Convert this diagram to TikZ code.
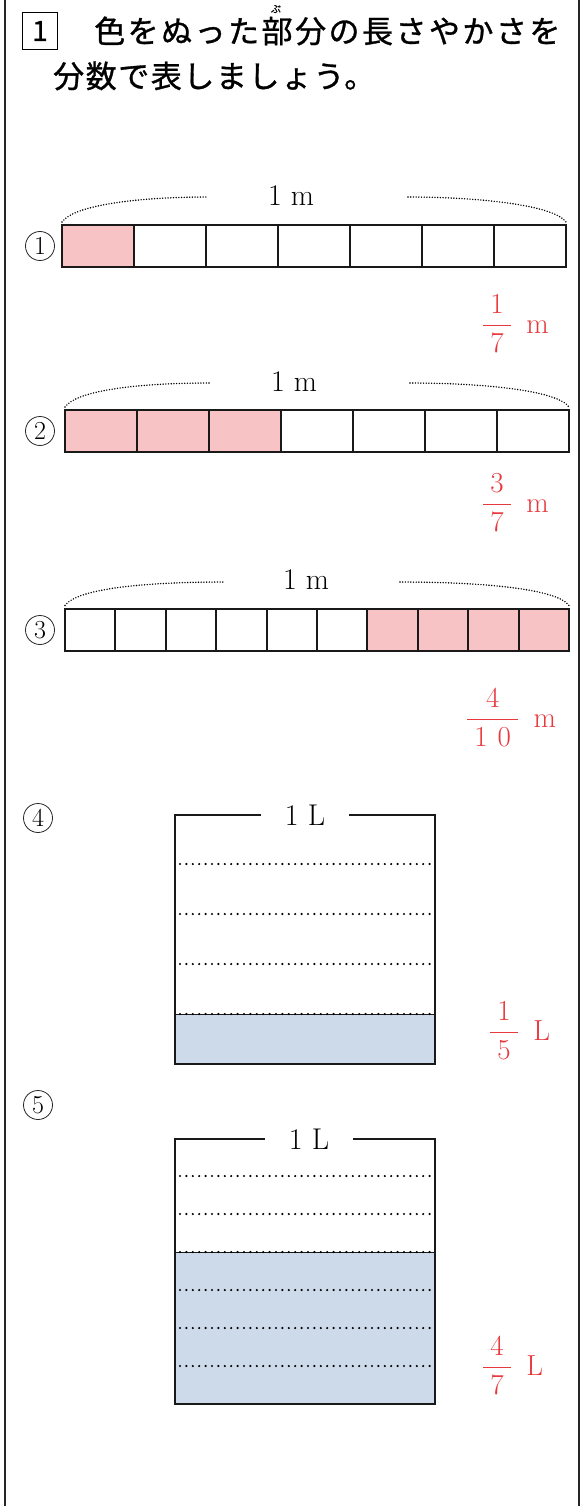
\RequirePackage{fix-cm}
\documentclass[tikz,border=0pt]{standalone}
\usepackage{amsmath}
\usepackage{xcolor}
\usepackage{fontspec}
\newfontfamily\jpfont[FakeBold=1]{Noto Sans CJK JP}
\usepackage{tikz}
\usetikzlibrary{calc,positioning}
\definecolor{pinkfill}{HTML}{F8C3C4}
\definecolor{ansred}{HTML}{E8383D}
\definecolor{waterblue}{HTML}{CDDAE9}
\newcommand{\ansfrac}[2]{$\genfrac{}{}{1.4pt}{0}{\hspace{7pt}#1\hspace{7pt}}{\hspace{7pt}#2\hspace{7pt}}$}

\begin{document}
\begin{tikzpicture}[x=1pt,y=-1pt,
  frame/.style={line width=2pt,black!85},
  cell/.style={draw=black!90,line width=2pt,inner sep=0pt,outer sep=0pt,minimum height=42pt},
  arcline/.style={line width=1.6pt,dash pattern=on 0pt off 2.7pt,line cap=round},
  gauge/.style={line width=2.4pt,dash pattern=on 0pt off 6.4pt,line cap=round},
  tank/.style={draw=black!90,line width=2pt},
  lab/.style={font=\fontsize{30}{32}\selectfont,inner sep=0pt},
  ans/.style={font=\fontsize{29}{31}\selectfont,text=ansred,inner sep=0pt,anchor=base west},
  num/.style={circle,draw=black!85,line width=0.8pt,minimum size=29pt,inner sep=0pt,font=\fontsize{26}{26}\selectfont},
  ttl/.style={font=\jpfont\fontsize{31}{31}\selectfont,inner sep=0pt,anchor=west}]
\useasboundingbox (0,0) rectangle (582,1506);
\draw[frame] (4.5,0) -- (4.5,1506);
\draw[frame] (579,0) -- (579,1506);
% title
\node[draw,line width=1.8pt,minimum width=35pt,minimum height=37pt,inner sep=0pt,
  font=\jpfont\fontsize{28}{28}\selectfont] (q1) at (40,31) {1};
\node[ttl] (t1) at (94,31) {\addfontfeature{LetterSpace=8}色をぬった部分の長さやかさを};
\node[font=\jpfont\fontsize{10}{10}\selectfont,inner sep=0pt] (rb) at (276,9) {ぶ};
\node[ttl] (t2) at (53,76) {\addfontfeature{LetterSpace=5}分数で表しましょう。};
% bar 1
\node[num] (n1) at (40,246) {1};
\foreach \i in {0} \node[cell,minimum width=72pt,fill=pinkfill] (a\i) at (98+72*\i,246) {};
\foreach \i in {1,...,6} \node[cell,minimum width=72pt] (a\i) at (98+72*\i,246) {};
\node[lab] (m1) at (291,196) {1 m};
\coordinate (l1) at (208,197);
\coordinate (r1) at (408,197);
\draw[arcline] (a0.north west) ++(0,-3) .. controls +(12,-17) and +(-70,0) .. (l1);
\draw[arcline] (r1) .. controls +(70,0) and +(-12,-17) .. ($(a6.north east)+(0,-3)$);
\node[ans] (f1) at (482,333) {\ansfrac{1}{7}\enspace m};
% bar 2
\node[num] (n2) at (40,431) {2};
\foreach \i in {0,1,2} \node[cell,minimum width=72pt,fill=pinkfill] (b\i) at (101+72*\i,431) {};
\foreach \i in {3,...,6} \node[cell,minimum width=72pt] (b\i) at (101+72*\i,431) {};
\node[lab] (m2) at (294,382) {1 m};
\coordinate (l2) at (210,383);
\coordinate (r2) at (410,383);
\draw[arcline] (b0.north west) ++(0,-3) .. controls +(12,-17) and +(-70,0) .. (l2);
\draw[arcline] (r2) .. controls +(70,0) and +(-12,-17) .. ($(b6.north east)+(0,-3)$);
\node[ans] (f2) at (482,512) {\ansfrac{3}{7}\enspace m};
% bar 3
\node[num] (n3) at (40,630) {3};
\foreach \i in {0,...,5} \node[cell,minimum width=50.4pt] (c\i) at (90.2+50.4*\i,629.5) {};
\foreach \i in {6,...,9} \node[cell,minimum width=50.4pt,fill=pinkfill] (c\i) at (90.2+50.4*\i,629.5) {};
\node[lab] (m3) at (306,580) {1 m};
\coordinate (l3) at (225,582);
\coordinate (r3) at (400,582);
\draw[arcline] (c0.north west) ++(0,-3) .. controls +(12,-17) and +(-80,0) .. (l3);
\draw[arcline] (r3) .. controls +(80,0) and +(-12,-17) .. ($(c9.north east)+(0,-3)$);
\node[ans] (f3) at (466,727) {$\genfrac{}{}{1.4pt}{0}{4}{\hspace{7pt}1\hspace{10pt}0\hspace{7pt}}$\enspace m};
% tank 4
\node[num] (n4) at (38,818) {4};
\fill[waterblue] (175,1014) rectangle (435,1064);
\draw[black!90,line width=1pt] (175,1014) -- (435,1014);
\foreach \k in {1,...,4} \draw[gauge] (180,814+50*\k) -- (433,814+50*\k);
\node[lab,minimum width=88pt] (v4) at (305,815) {1 L};
\draw[tank] (v4.west) -| (175,1064) -| (435,815) -- (v4.east);
\node[ans] (f4) at (489,1040) {\ansfrac{1}{5}\enspace L};
% tank 5
\node[num] (n5) at (38,1105) {5};
\fill[waterblue] (175,1252) rectangle (435,1404);
\draw[black!90,line width=1pt] (175,1252) -- (435,1252);
\foreach \k in {1,...,6} \draw[gauge] (180,1138+38*\k) -- (433,1138+38*\k);
\node[lab,minimum width=88pt] (v5) at (309,1139) {1 L};
\draw[tank] (v5.west) -| (175,1404) -| (435,1139) -- (v5.east);
\node[ans] (f5) at (482,1375) {\ansfrac{4}{7}\enspace L};
\end{tikzpicture}
\end{document}
